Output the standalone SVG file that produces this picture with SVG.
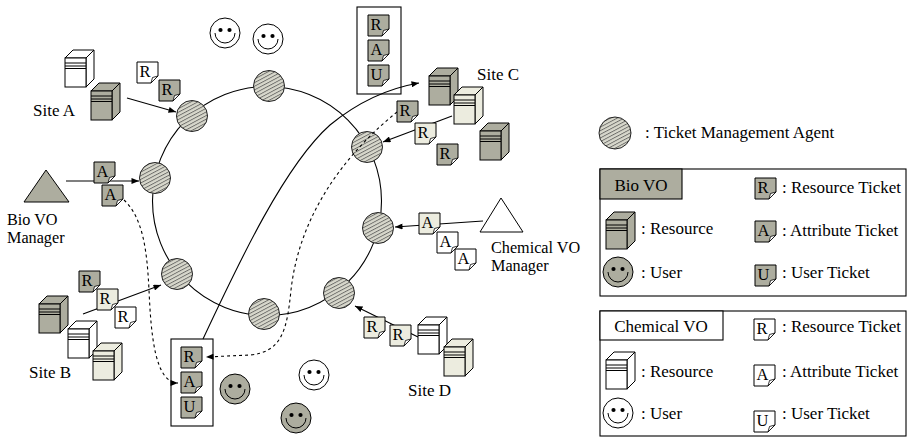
<svg xmlns="http://www.w3.org/2000/svg" xmlns:xlink="http://www.w3.org/1999/xlink" width="914" height="437" viewBox="0 0 914 437">
  <style>
    text { font-family: "Liberation Serif", "Times New Roman", serif; font-size: 17px; fill: #000; }
    .tl { font-size: 16.5px; }
    .ml { font-size: 16.2px; }
    .ln { fill: none; stroke: #000; stroke-width: 1.1; }
    .dash { stroke-dasharray: 3 3; }
    .dk { fill: #adad9f; }
    .cr { fill: #ececdf; }
    .wh { fill: #ffffff; }
    .ag { fill: url(#hatch); stroke: #222; stroke-width: 1; }
    .box { fill: none; stroke: #000; stroke-width: 1.1; }
  </style>
  <defs>
    <pattern id="hatch" width="3.2" height="3.2" patternUnits="userSpaceOnUse" patternTransform="rotate(-28)">
      <rect width="3.2" height="3.2" fill="#d8d8cc"/>
      <line x1="0" y1="0.5" x2="3.2" y2="0.5" stroke="#4a4a4a" stroke-width="0.7"/>
    </pattern>
    <marker id="arr" viewBox="0 0 10 8" refX="10" refY="4" markerWidth="8" markerHeight="6" orient="auto" markerUnits="userSpaceOnUse">
      <path d="M0,0 L10,4 L0,8 Z" fill="#000"/>
    </marker>
    <!-- ticket: page with turned-up corner -->
    <g id="tk">
      <path d="M0,0 H21 V14 L14,21 H0 Z" stroke="#000" stroke-width="1"/>
      <path d="M21,14 L15.5,15.5 L14,21 Z" fill="#fff" stroke="#000" stroke-width="0.8"/>
    </g>
    <!-- resource: server box -->
    <g id="srv">
      <path d="M0,8 L8,0 H29 L21,8 Z M21,8 L29,0 V29 L21,37 Z" stroke="#000" stroke-width="1"/>
      <rect x="0" y="8" width="21" height="29" stroke="#000" stroke-width="1"/>
      <path d="M0,13 H21 M0,16 H21 M0,18.5 H21" stroke="#000" stroke-width="1" fill="none"/>
    </g>
    <!-- user: smiley -->
    <g id="usr">
      <circle r="15" stroke="#000" stroke-width="1"/>
      <circle cx="-4.5" cy="-3" r="2.1" fill="#000"/>
      <circle cx="4.5" cy="-3" r="2.1" fill="#000"/>
      <path d="M-10,0 A10,10 0 0 0 10,0" fill="none" stroke="#000" stroke-width="1"/>
    </g>
  </defs>

  <!-- agent ring -->
  <g id="ring">
    <circle cx="267" cy="201" r="114.5" class="ln"/>
  </g>

  <!-- ticket management agents -->
  <g id="agents">
    <circle id="agent-1" cx="192" cy="116" r="15.5" class="ag"/>
    <circle id="agent-2" cx="269" cy="86" r="15.5" class="ag"/>
    <circle id="agent-3" cx="155" cy="178" r="15.5" class="ag"/>
    <circle id="agent-4" cx="177" cy="274" r="15.5" class="ag"/>
    <circle id="agent-5" cx="264" cy="314" r="15.5" class="ag"/>
    <circle id="agent-6" cx="339" cy="293" r="15.5" class="ag"/>
    <circle id="agent-7" cx="378" cy="228" r="15.5" class="ag"/>
    <circle id="agent-8" cx="367" cy="147" r="15.5" class="ag"/>
  </g>

  <!-- connectors -->
  <g id="connectors">
    <path class="ln" d="M127,98 L176,112" marker-end="url(#arr)"/>
    <path class="ln" d="M66,181 L139,181" marker-end="url(#arr)"/>
    <path class="ln" d="M83,314 L161,285" marker-end="url(#arr)"/>
    <path class="ln" d="M452,116 L383,142" marker-end="url(#arr)"/>
    <path class="ln" d="M483,221 L395,227" marker-end="url(#arr)"/>
    <path class="ln" d="M418,337 L355,306" marker-end="url(#arr)"/>
    <path class="ln" d="M203,339 C240,260 285,165 330,125 C358,102 390,88 419,83" marker-end="url(#arr)"/>
    <path class="ln dash" d="M124,200 C143,218 147,250 149,290 C151,335 155,383 178,383" marker-end="url(#arr)"/>
    <path class="ln dash" d="M397,112 C350,150 300,210 291,290 C287,330 282,352 250,355 L206,357" marker-end="url(#arr)"/>
  </g>

  <!-- Site A -->
  <g id="site-a">
    <use href="#srv" x="65" y="50" class="wh"/>
    <use href="#srv" x="91" y="83" class="dk"/>
    <text x="33" y="116">Site A</text>
    <g transform="translate(137,62)"><use href="#tk" class="wh"/><text class="tl" x="2.5" y="15">R</text></g>
    <g transform="translate(159,80)"><use href="#tk" class="dk"/><text class="tl" x="2.5" y="15">R</text></g>
  </g>

  <!-- Bio VO Manager -->
  <g id="bio-manager">
    <polygon points="46,170 24,202 69,202" class="dk" stroke="#000" stroke-width="1"/>
    <text class="ml" x="7" y="224.5">Bio VO</text>
    <text class="ml" x="7" y="242.8">Manager</text>
    <g transform="translate(94,162)"><use href="#tk" class="dk"/><text class="tl" x="2.5" y="15">A</text></g>
    <g transform="translate(102,185)"><use href="#tk" class="dk"/><text class="tl" x="2.5" y="15">A</text></g>
  </g>

  <!-- Site B -->
  <g id="site-b">
    <use href="#srv" x="39" y="296" class="dk"/>
    <use href="#srv" x="68" y="321" class="wh"/>
    <use href="#srv" x="93" y="343" class="cr"/>
    <text x="29" y="378">Site B</text>
    <g transform="translate(79,271)"><use href="#tk" class="dk"/><text class="tl" x="2.5" y="15">R</text></g>
    <g transform="translate(97,289)"><use href="#tk" class="cr"/><text class="tl" x="2.5" y="15">R</text></g>
    <g transform="translate(115,307)"><use href="#tk" class="wh"/><text class="tl" x="2.5" y="15">R</text></g>
  </g>

  <!-- Bio VO user ticket set -->
  <g id="bio-user-tickets">
    <rect x="171" y="339" width="42" height="87" class="box"/>
    <g transform="translate(181,347)"><use href="#tk" class="dk"/><text class="tl" x="2.5" y="15">R</text></g>
    <g transform="translate(181,372)"><use href="#tk" class="dk"/><text class="tl" x="2.5" y="15">A</text></g>
    <g transform="translate(181,397)"><use href="#tk" class="dk"/><text class="tl" x="2.5" y="15">U</text></g>
  </g>

  <!-- Issued ticket set -->
  <g id="issued-tickets">
    <rect x="357" y="7" width="44" height="87" class="box"/>
    <g transform="translate(368,15)"><use href="#tk" class="dk"/><text class="tl" x="2.5" y="15">R</text></g>
    <g transform="translate(368,40)"><use href="#tk" class="dk"/><text class="tl" x="2.5" y="15">A</text></g>
    <g transform="translate(368,65)"><use href="#tk" class="dk"/><text class="tl" x="2.5" y="15">U</text></g>
  </g>

  <!-- Site C -->
  <g id="site-c">
    <use href="#srv" x="429" y="68" class="dk"/>
    <use href="#srv" x="454" y="87" class="cr"/>
    <use href="#srv" x="480" y="123" class="dk"/>
    <text x="477" y="80">Site C</text>
    <g transform="translate(397,101)"><use href="#tk" class="dk"/><text class="tl" x="2.5" y="15">R</text></g>
    <g transform="translate(415,123)"><use href="#tk" class="cr"/><text class="tl" x="2.5" y="15">R</text></g>
    <g transform="translate(437,144)"><use href="#tk" class="dk"/><text class="tl" x="2.5" y="15">R</text></g>
  </g>

  <!-- Chemical VO Manager -->
  <g id="chem-manager">
    <polygon points="501,198 480,232 523,232" class="wh" stroke="#000" stroke-width="1"/>
    <text class="ml" x="491" y="252.5">Chemical VO</text>
    <text class="ml" x="491" y="270.8">Manager</text>
    <g transform="translate(419,213)"><use href="#tk" class="cr"/><text class="tl" x="2.5" y="15">A</text></g>
    <g transform="translate(437,232)"><use href="#tk" class="wh"/><text class="tl" x="2.5" y="15">A</text></g>
    <g transform="translate(455,249)"><use href="#tk" class="wh"/><text class="tl" x="2.5" y="15">A</text></g>
  </g>

  <!-- Site D -->
  <g id="site-d">
    <use href="#srv" x="418" y="317" class="wh"/>
    <use href="#srv" x="444" y="339" class="cr"/>
    <text x="408" y="396">Site D</text>
    <g transform="translate(364,317)"><use href="#tk" class="cr"/><text class="tl" x="2.5" y="15">R</text></g>
    <g transform="translate(390,325)"><use href="#tk" class="cr"/><text class="tl" x="2.5" y="15">R</text></g>
  </g>

  <!-- users -->
  <g id="users">
    <use href="#usr" x="225" y="33" class="wh"/>
    <use href="#usr" x="268" y="39" class="wh"/>
    <use href="#usr" x="235" y="389" class="dk"/>
    <use href="#usr" x="296" y="418" class="dk"/>
    <use href="#usr" x="314" y="375" class="wh"/>
  </g>

  <!-- legend -->
  <g id="legend-agent">
    <circle cx="615" cy="133" r="16" class="ag"/>
    <text x="645" y="138">: Ticket Management Agent</text>
  </g>

  <g id="legend-bio">
    <rect x="600" y="169" width="306" height="127" class="box"/>
    <rect x="600" y="169" width="82" height="30" class="dk" stroke="#000" stroke-width="1.1"/>
    <text x="641" y="191" text-anchor="middle">Bio VO</text>
    <use href="#srv" x="606" y="212" class="dk"/>
    <text x="641" y="234">: Resource</text>
    <use href="#usr" x="618" y="272" class="dk"/>
    <text x="641" y="278">: User</text>
    <g transform="translate(755,178)"><use href="#tk" class="dk"/><text class="tl" x="2.5" y="15">R</text></g>
    <text x="782" y="193">: Resource Ticket</text>
    <g transform="translate(755,221)"><use href="#tk" class="dk"/><text class="tl" x="2.5" y="15">A</text></g>
    <text x="782" y="236">: Attribute Ticket</text>
    <g transform="translate(755,265)"><use href="#tk" class="dk"/><text class="tl" x="2.5" y="15">U</text></g>
    <text x="782" y="278">: User Ticket</text>
  </g>

  <g id="legend-chem">
    <rect x="600" y="311" width="306" height="125" class="box"/>
    <rect x="600" y="311" width="123" height="29" class="wh" stroke="#000" stroke-width="1.1"/>
    <text x="661" y="332" text-anchor="middle">Chemical VO</text>
    <use href="#srv" x="606" y="352" class="wh"/>
    <text x="641" y="377">: Resource</text>
    <use href="#usr" x="618" y="413" class="wh"/>
    <text x="641" y="419">: User</text>
    <g transform="translate(754,319)"><use href="#tk" class="wh"/><text class="tl" x="2.5" y="15">R</text></g>
    <text x="782" y="332">: Resource Ticket</text>
    <g transform="translate(754,365)"><use href="#tk" class="wh"/><text class="tl" x="2.5" y="15">A</text></g>
    <text x="782" y="377">: Attribute Ticket</text>
    <g transform="translate(754,411)"><use href="#tk" class="wh"/><text class="tl" x="2.5" y="15">U</text></g>
    <text x="782" y="419">: User Ticket</text>
  </g>
</svg>
